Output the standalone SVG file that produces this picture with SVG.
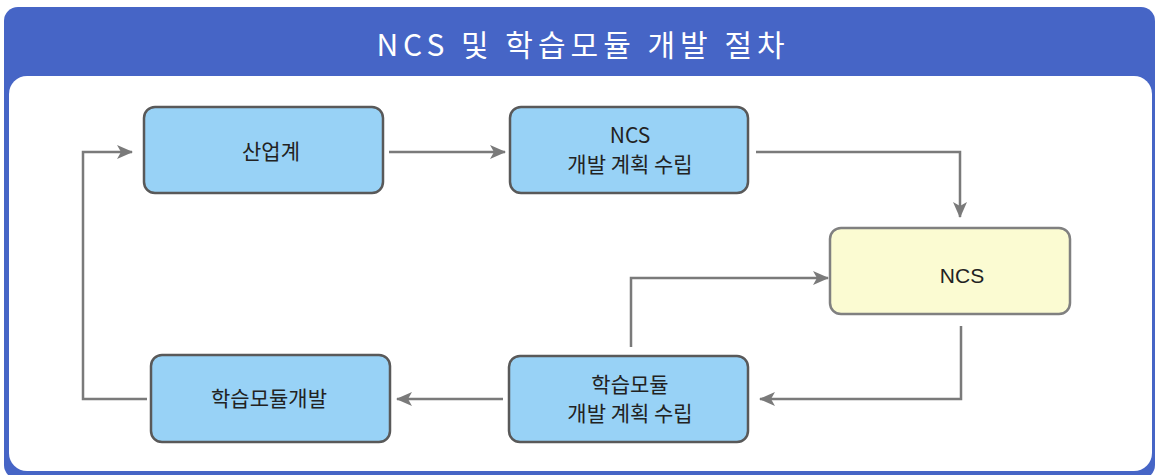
<svg xmlns="http://www.w3.org/2000/svg" width="1157" height="475" viewBox="0 0 1157 475">
<style>
.box{fill:#98D2F6;stroke:#595959;stroke-width:2.5}
.ybox{fill:#FBFBD2;stroke:#808080;stroke-width:2.5}
.lbl{font-family:"Noto Sans CJK KR","Noto Sans",sans-serif;font-size:21px;fill:#222;text-anchor:middle}
.lat{font-family:"Liberation Sans",Arial,sans-serif;font-size:21px;fill:#222;text-anchor:middle}
.con{fill:none;stroke:#7a7a7a;stroke-width:2.5}
</style>
<defs>
<marker id="ah" viewBox="0 0 16 14" refX="15" refY="7" markerWidth="16" markerHeight="14" markerUnits="userSpaceOnUse" orient="auto">
<path d="M0,0 L16,7 L0,14 L4,7 Z" fill="#7a7a7a"/>
</marker>
</defs>
<g id="frame">
<rect x="4" y="7" width="1151" height="472" rx="14" fill="#4665C6"/>
<rect x="9" y="76" width="1143" height="395" rx="18" fill="#FFFFFF"/>
<text x="583" y="56" font-family="'Noto Sans CJK KR','Noto Sans',sans-serif" font-size="30" font-weight="400" letter-spacing="5" fill="#FFFFFF" text-anchor="middle">NCS 및 학습모듈 개발 절차</text>
</g>
<g id="connectors">
<path class="con" d="M389,152 H505" marker-end="url(#ah)"/>
<path class="con" d="M756,152 H960 V217" marker-end="url(#ah)"/>
<path class="con" d="M961,326 V399 H760" marker-end="url(#ah)"/>
<path class="con" d="M631,347 V278 H828" marker-end="url(#ah)"/>
<path class="con" d="M503,399 H397" marker-end="url(#ah)"/>
<path class="con" d="M147,399 H83 V152 H132" marker-end="url(#ah)"/>
</g>
<g id="n1">
<rect class="box" x="144" y="107" width="239" height="86" rx="11"/>
<text class="lbl" x="271" y="159">산업계</text>
</g>
<g id="n2">
<rect class="box" x="510" y="107" width="238" height="86" rx="11"/>
<text class="lbl" x="630" y="143">NCS</text>
<text class="lbl" x="630" y="172">개발 계획 수립</text>
</g>
<g id="n3">
<rect class="ybox" x="830" y="228" width="240" height="86" rx="11"/>
<text class="lat" x="962" y="283">NCS</text>
</g>
<g id="n4">
<rect class="box" x="509" y="356" width="239" height="86" rx="11"/>
<text class="lbl" x="630" y="392">학습모듈</text>
<text class="lbl" x="630" y="421">개발 계획 수립</text>
</g>
<g id="n5">
<rect class="box" x="151" y="355" width="239" height="87" rx="11"/>
<text class="lbl" x="269" y="406">학습모듈개발</text>
</g>
</svg>
